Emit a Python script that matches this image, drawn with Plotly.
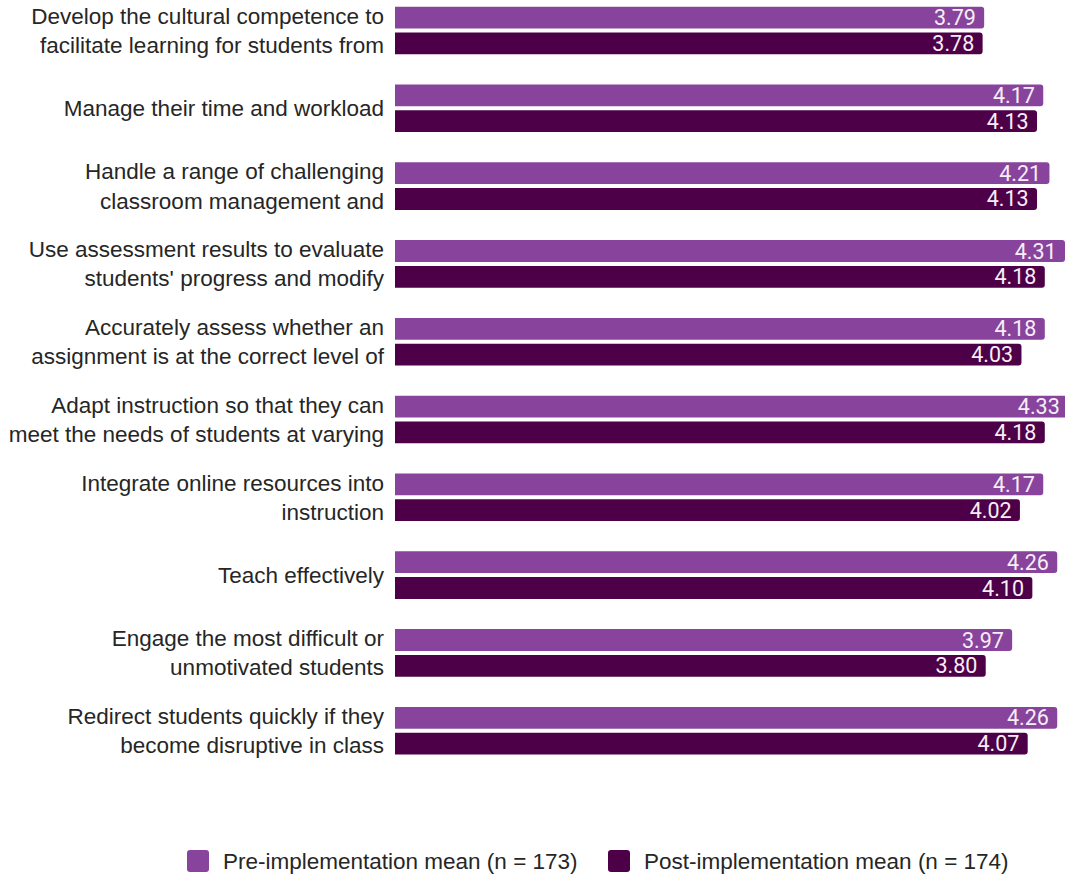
import plotly.graph_objects as go

# Survey items (left labels, top to bottom)
categories = [
    "Develop the cultural competence to<br>facilitate learning for students from",
    "Manage their time and workload",
    "Handle a range of challenging<br>classroom management and",
    "Use assessment results to evaluate<br>students' progress and modify",
    "Accurately assess whether an<br>assignment is at the correct level of",
    "Adapt instruction so that they can<br>meet the needs of students at varying",
    "Integrate online resources into<br>instruction",
    "Teach effectively",
    "Engage the most difficult or<br>unmotivated students",
    "Redirect students quickly if they<br>become disruptive in class",
]

pre_name = "Pre-implementation mean (n = 173)"
post_name = "Post-implementation mean (n = 174)"

pre_values = [3.79, 4.17, 4.21, 4.31, 4.18, 4.33, 4.17, 4.26, 3.97, 4.26]
post_values = [3.78, 4.13, 4.13, 4.18, 4.03, 4.18, 4.02, 4.10, 3.80, 4.07]

PRE_COLOR = "#88449D"
POST_COLOR = "#4D0047"
LABEL_COLOR = "#262626"
LABEL_FONT = "Liberation Sans, Arial, sans-serif"

W, H = 1065, 877
M_L, M_R, M_T, M_B = 395, 0, 0, 87

fig = go.Figure()
for name, vals, color in [(pre_name, pre_values, PRE_COLOR),
                          (post_name, post_values, POST_COLOR)]:
    fig.add_trace(go.Bar(
        name=name,
        y=categories,
        x=vals,
        orientation="h",
        marker=dict(color=color, line=dict(width=0)),
        texttemplate="%{x:.2f}&nbsp;",
        textposition="inside",
        insidetextanchor="end",
        constraintext="none",
        textfont=dict(family="Roboto, sans-serif", size=21.5, color="#f6eef6"),
        showlegend=False,
        hoverinfo="skip",
    ))

fig.update_layout(
    width=W, height=H,
    margin=dict(l=M_L, r=M_R, t=M_T, b=M_B),
    paper_bgcolor="white",
    plot_bgcolor="white",
    barmode="group",
    bargap=0.337,
    bargroupgap=0.155,
    barcornerradius=3,
    showlegend=False,
)

fig.update_xaxes(
    range=[0, 4.31],
    showgrid=False, zeroline=False, showline=False,
    showticklabels=False, ticks="",
)
fig.update_yaxes(
    type="category",
    range=[9.762, -0.392],
    showgrid=False, zeroline=False, showline=False,
    ticks="", ticklabelstandoff=10,
    tickfont=dict(family=LABEL_FONT, size=22.5, color=LABEL_COLOR),
)

# Legend drawn below the plot: rounded swatches plus text
plot_w = W - M_L - M_R
plot_h = H - M_T - M_B


def px_to_paper_x(px):
    return (px - M_L) / plot_w


def px_to_paper_y(py):
    return (H - M_B - py) / plot_h


def rounded_square(x0, y0, size, r):
    # path in paper units from pixel box
    x1, y1 = x0 + size, y0 + size
    X = px_to_paper_x
    Y = px_to_paper_y
    return (
        f"M{X(x0 + r)},{Y(y0)} L{X(x1 - r)},{Y(y0)} Q{X(x1)},{Y(y0)} {X(x1)},{Y(y0 + r)} "
        f"L{X(x1)},{Y(y1 - r)} Q{X(x1)},{Y(y1)} {X(x1 - r)},{Y(y1)} "
        f"L{X(x0 + r)},{Y(y1)} Q{X(x0)},{Y(y1)} {X(x0)},{Y(y1 - r)} "
        f"L{X(x0)},{Y(y0 + r)} Q{X(x0)},{Y(y0)} {X(x0 + r)},{Y(y0)} Z"
    )


legend_items = [(pre_name, PRE_COLOR, 187), (post_name, POST_COLOR, 608)]
legend_y = 861
for name, color, sx in legend_items:
    fig.add_shape(
        type="path", xref="paper", yref="paper",
        path=rounded_square(sx, legend_y - 11, 22, 3),
        fillcolor=color, line=dict(width=0),
    )
    fig.add_annotation(
        xref="paper", yref="paper",
        x=px_to_paper_x(sx + 34), y=px_to_paper_y(legend_y),
        xanchor="left", yanchor="middle",
        text=name, showarrow=False,
        font=dict(family=LABEL_FONT, size=22.5, color=LABEL_COLOR),
    )

fig.write_html("out.html")
